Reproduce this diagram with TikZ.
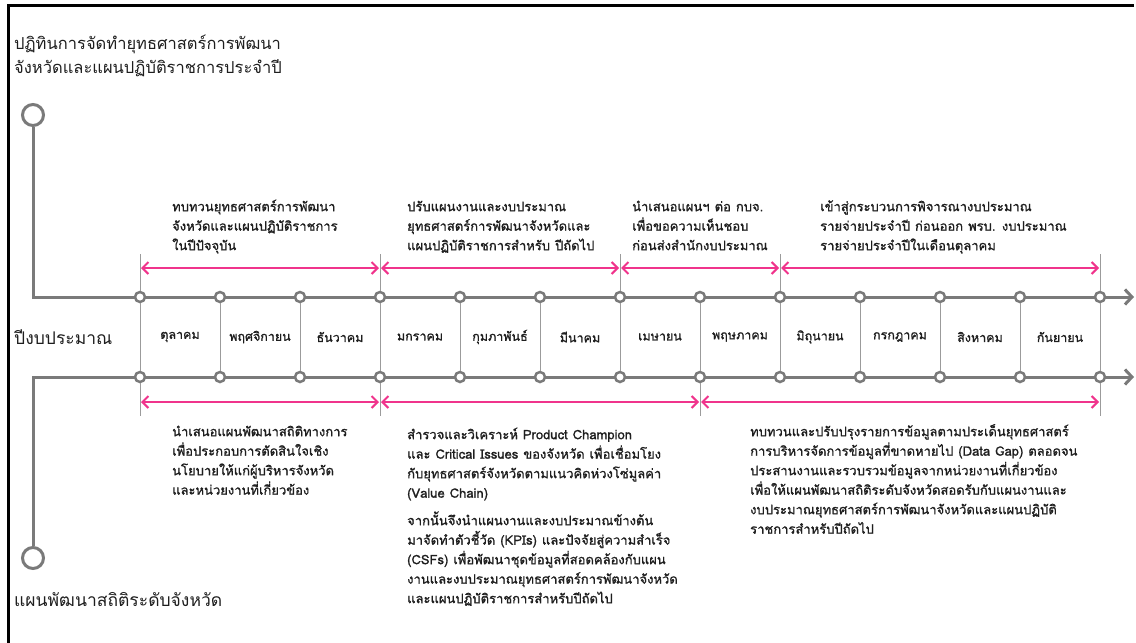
\documentclass[tikz,border=0pt]{standalone}
\usepackage{fontspec}
\setmainfont[Script=Thai]{Loma}
\newfontfamily\thaimedium[Script=Thai,FakeBold=1.2]{Loma}
\usetikzlibrary{arrows.meta}
\definecolor{linegray}{RGB}{122,122,122}
\definecolor{thingray}{RGB}{155,155,155}
\definecolor{hotpink}{RGB}{240,52,140}
\definecolor{textdark}{RGB}{30,30,30}
\newcommand{\firstline}{\rule{0pt}{16pt}}
\newcommand{\widerspace}{\spaceskip=5pt plus 1pt\relax}

\begin{document}
\begin{tikzpicture}[x=1pt, y=-1pt,
    ring/.style={circle, draw=linegray, line width=3pt, fill=white, minimum size=21pt, inner sep=0pt},
    monthdot/.style={circle, draw=linegray, line width=2.5pt, fill=white, minimum size=10pt, inner sep=0pt},
    mainline/.style={draw=linegray, line width=3pt, -{Straight Barb[length=7pt, width=15pt]}},
    divider/.style={draw=thingray, line width=1pt},
    period/.style={draw=hotpink, line width=2pt, shorten <=1pt, shorten >=1pt,
        {Straight Barb[length=6pt, width=12pt]}-{Straight Barb[length=6pt, width=12pt]}},
    note/.style={anchor=north west, align=left, inner sep=0pt, text=textdark,
        font=\thaimedium\fontsize{13}{19.5}\selectfont\widerspace},
    month/.style={text=textdark, font=\thaimedium\fontsize{12.5}{14}\selectfont},
    heading/.style={anchor=north west, align=left, inner sep=0pt, text=textdark,
        font=\fontsize{16.5}{23.5}\selectfont}]
    \useasboundingbox (0,0) rectangle (1136,643);
    \draw[line width=3pt] (8,643) -- (8,5) -- (1134,5);

    \node[heading] (plantitle) at (14,35) {ปฏิทินการจัดทำยุทธศาสตร์การพัฒนา\\จังหวัดและแผนปฏิบัติราชการประจำปี};
    \node[heading, anchor=west, font=\fontsize{17.5}{20}\selectfont] (fiscal) at (14,337) {ปีงบประมาณ};
    \node[heading, font=\fontsize{17.5}{20}\selectfont] (stattitle) at (14,592) {แผนพัฒนาสถิติระดับจังหวัด};

    \node[ring] (topring) at (33,115) {};
    \node[ring] (botring) at (33,558) {};
    \coordinate (topend) at (1134,297);
    \coordinate (botend) at (1134,377);
    \draw[mainline] (topring.south) |- (topend);
    \draw[mainline] (botring.north) |- (botend);

    \foreach \i in {0,...,12} {
        \node[monthdot] (t\i) at (140+80*\i,297) {};
        \node[monthdot] (b\i) at (140+80*\i,377) {};
        \draw[divider] (t\i) -- (b\i);
    }
    \foreach \m [count=\i from 0] in {ตุลาคม,พฤศจิกายน,ธันวาคม,มกราคม,กุมภาพันธ์,มีนาคม,เมษายน,พฤษภาคม,มิถุนายน,กรกฎาคม,สิงหาคม,กันยายน}
        \node[month] (m\i) at (180+80*\i,337) {\m};

    \foreach \i in {0,3,6,8,12}
        \draw[divider] (t\i) -- ++(0,-43);
    \foreach \i in {0,3,7,12}
        \draw[divider] (b\i) -- ++(0,39);
    \foreach \a/\b in {0/3,3/6,6/8,8/12}
        \draw[period] (t\a |- 0,268) -- (t\b |- 0,268);
    \foreach \a/\b in {0/3,3/7,7/12}
        \draw[period] (b\a |- 0,402) -- (b\b |- 0,402);

    % above the year
    \node[note] (review) at (172,195) {\firstline ทบทวนยุทธศาสตร์การพัฒนา\\จังหวัดและแผนปฏิบัติราชการ\\ในปีปัจจุบัน};
    \node[note] (adjust) at (407,195) {\firstline ปรับแผนงานและงบประมาณ\\ยุทธศาสตร์การพัฒนาจังหวัดและ\\แผนปฏิบัติราชการสำหรับ ปีถัดไป};
    \node[note] (propose) at (632,195) {\firstline นำเสนอแผนฯ ต่อ กบจ.\\เพื่อขอความเห็นชอบ\\ก่อนส่งสำนักงบประมาณ};
    \node[note] (budget) at (820,195) {\firstline เข้าสู่กระบวนการพิจารณางบประมาณ\\รายจ่ายประจำปี ก่อนออก พรบ. งบประมาณ\\รายจ่ายประจำปีในเดือนตุลาคม};

    % below the year
    \node[note] (present) at (172,420) {\firstline นำเสนอแผนพัฒนาสถิติทางการ\\เพื่อประกอบการตัดสินใจเชิง\\นโยบายให้แก่ผู้บริหารจังหวัด\\และหน่วยงานที่เกี่ยวข้อง};
    \node[note] (survey) at (407,423) {\firstline สำรวจและวิเคราะห์ Product Champion\\และ Critical Issues ของจังหวัด เพื่อเชื่อมโยง\\กับยุทธศาสตร์จังหวัดตามแนวคิดห่วงโซ่มูลค่า\\(Value Chain)\\[8pt]จากนั้นจึงนำแผนงานและงบประมาณข้างต้น\\มาจัดทำตัวชี้วัด (KPIs) และปัจจัยสู่ความสำเร็จ\\(CSFs) เพื่อพัฒนาชุดข้อมูลที่สอดคล้องกับแผน\\งานและงบประมาณยุทธศาสตร์การพัฒนาจังหวัด\\และแผนปฏิบัติราชการสำหรับปีถัดไป};
    \node[note] (improve) at (750,420) {\firstline ทบทวนและปรับปรุงรายการข้อมูลตามประเด็นยุทธศาสตร์\\การบริหารจัดการข้อมูลที่ขาดหายไป (Data Gap) ตลอดจน\\ประสานงานและรวบรวมข้อมูลจากหน่วยงานที่เกี่ยวข้อง\\เพื่อให้แผนพัฒนาสถิติระดับจังหวัดสอดรับกับแผนงานและ\\งบประมาณยุทธศาสตร์การพัฒนาจังหวัดและแผนปฏิบัติ\\ราชการสำหรับปีถัดไป};
\end{tikzpicture}
\end{document}
